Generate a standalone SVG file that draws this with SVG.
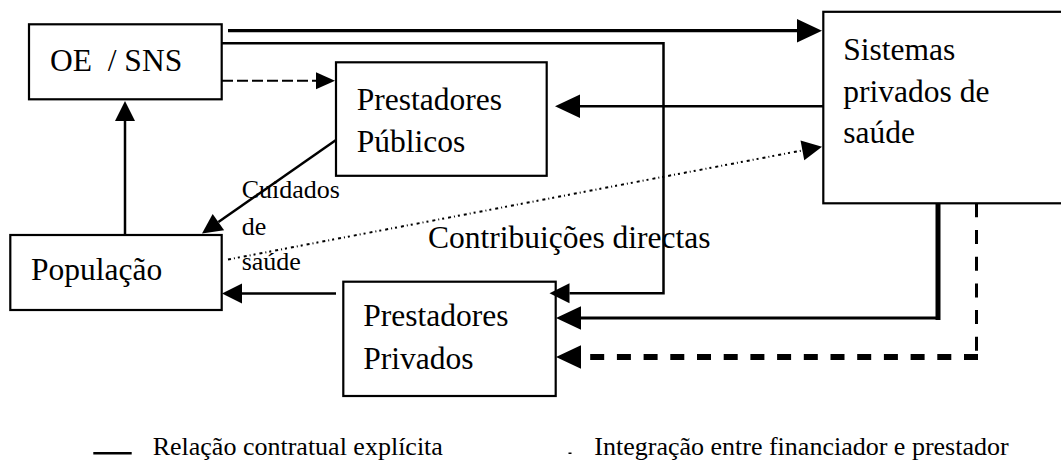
<svg xmlns="http://www.w3.org/2000/svg" width="1061" height="460" viewBox="0 0 1061 460" font-family="'Liberation Serif', 'DejaVu Serif', 'Times New Roman', serif">
<style>
text{font-family:'Liberation Serif','DejaVu Serif','Times New Roman',serif;fill:#000}
.t{font-size:31.5px;white-space:pre}
.s{font-size:26px}
.box{fill:#fff;stroke:#000;stroke-width:2.2}
.c{fill:none;stroke:#000}
</style>
<defs>
<marker id="mk26" markerUnits="userSpaceOnUse" markerWidth="30" markerHeight="30" refX="0" refY="0" orient="auto" overflow="visible"><path d="M0,-11.8 L25,0 L0,11.8 z" fill="#000"/></marker>
<marker id="mk20" markerUnits="userSpaceOnUse" markerWidth="24" markerHeight="24" refX="0" refY="0" orient="auto" overflow="visible"><path d="M0,-10 L20,0 L0,10 z" fill="#000"/></marker>
<marker id="mk19" markerUnits="userSpaceOnUse" markerWidth="22" markerHeight="22" refX="0" refY="0" orient="auto" overflow="visible"><path d="M0,-8.5 L19,0 L0,8.5 z" fill="#000"/></marker>
</defs>
<rect width="1061" height="460" fill="#fff"/>
<g id="oe-sns"><rect class="box" x="29" y="24.3" width="192.7" height="75"/><text class="t" x="50" y="70.7">OE  / SNS</text></g>
<g id="prestadores-publicos"><rect class="box" x="336" y="62.3" width="210.7" height="113.5"/><text class="t" x="356.7" y="110">Prestadores</text><text class="t" x="356.7" y="151.5">Públicos</text></g>
<g id="sistemas-privados"><rect class="box" x="823.3" y="11.8" width="250" height="191.5"/><text class="t" x="843.3" y="60">Sistemas</text><text class="t" x="843.3" y="101.5">privados de</text><text class="t" x="843.3" y="143">saúde</text></g>
<g id="populacao"><rect class="box" x="10.3" y="235" width="211.4" height="75"/><text class="t" x="31" y="280">População</text></g>
<g id="prestadores-privados"><rect class="box" x="343.3" y="281.7" width="212.4" height="114.3"/><text class="t" x="363.3" y="326">Prestadores</text><text class="t" x="363.3" y="369">Privados</text></g>
<g id="connectors">
<path class="c" d="M228,30.7 H797" stroke-width="3.2" marker-end="url(#mk26)"/>
<path class="c" d="M222,43.3 H663.5 V293.3 H569.5" stroke-width="2.5" marker-end="url(#mk20)"/>
<path class="c" d="M222,80.7 H316" stroke-width="2" stroke-dasharray="11 4" marker-end="url(#mk19)"/>
<path class="c" d="M823,106.3 H580" stroke-width="2.5" marker-end="url(#mk26)"/>
<path class="c" d="M125,235 V121" stroke-width="2.5" marker-end="url(#mk20)"/>
<path class="c" d="M336,140 L218.4,222.1" stroke-width="2.5" marker-end="url(#mk20)"/>
<path class="c" d="M228,259.5 L802.4,150.4" stroke-width="2" stroke-dasharray="3 3 1 3 2 4" marker-end="url(#mk20)"/>
<path class="c" d="M336,293.5 H242" stroke-width="2.5" marker-end="url(#mk20)"/>
<path class="c" d="M938,203 V320" stroke-width="5"/>
<path class="c" d="M940,318 H581" stroke-width="3" marker-end="url(#mk26)"/>
<path class="c" d="M976.5,203.3 V358" stroke-width="3" stroke-dasharray="14 12.7"/>
<path class="c" d="M978,357 H581" stroke-width="6" stroke-dasharray="14 12.7" marker-end="url(#mk26)"/>
</g>
<g id="labels">
<text class="s" x="241.7" y="198.3">Cuidados</text>
<text class="s" x="241.7" y="235">de</text>
<text class="s" x="241.7" y="270">saúde</text>
<text class="t" x="428" y="248.3">Contribuições directas</text>
</g>
<g id="legend">
<path class="c" d="M93.3,453.3 H131.7" stroke-width="2.5"/>
<text class="s" x="152.7" y="455">Relação contratual explícita</text>
<rect x="568.5" y="452.5" width="3" height="1.5" fill="#000"/>
<text class="s" x="594.3" y="455">Integração entre financiador e prestador</text>
</g>
</svg>
